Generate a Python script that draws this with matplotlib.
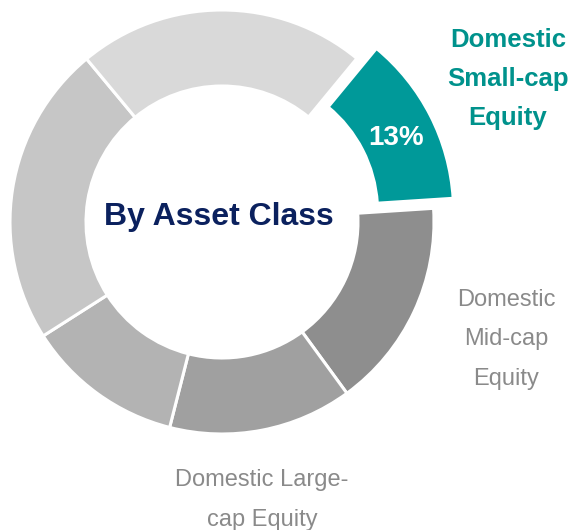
import matplotlib
matplotlib.use('Agg')
import matplotlib.pyplot as plt

plt.rcParams['font.family'] = ['Liberation Sans', 'DejaVu Sans']

W, H = 572, 530

# ── data (clockwise from the highlighted slice) ──
segments = ['Domestic Small-cap Equity', 'Domestic Mid-cap Equity',
            'Domestic Large-cap Equity', 'Segment 4', 'Segment 5', 'Segment 6']
shares = [13, 16, 14, 12, 23, 22]
wedge_colors = ['#009999', '#8e8e8e', '#a0a0a0', '#b3b3b3', '#c6c6c6', '#d9d9d9']
pct_label = '13%'
center_title = 'By Asset Class'
small_cap_lines = ['Domestic', 'Small-cap', 'Equity']
mid_cap_lines = ['Domestic', 'Mid-cap', 'Equity']
large_cap_lines = ['Domestic Large-', 'cap Equity']

TEAL_TXT = '#00928c'
GRAY_TXT = '#8a8a8a'
NAVY = '#0b215e'

fig = plt.figure(figsize=(W / 100, H / 100), dpi=100)
ax = fig.add_axes([0, 0, 1, 1])

# pixel-like coordinates, y measured upward
cx, cy, R, ring = 222, H - 222, 212, 76
offset = 22   # slice pulled out
explode = [offset if i == 0 else 0 for i in range(len(shares))]
ax.pie(shares, colors=wedge_colors, explode=explode, startangle=50.5,
       counterclock=False, radius=R, center=(cx, cy),
       wedgeprops=dict(width=ring, edgecolor='white', linewidth=2.2))
ax.set_xlim(0, W)
ax.set_ylim(0, H)
ax.axis('off')

ax.text(219, H - 225, center_title, ha='center', va='baseline',
        fontsize=23, fontweight='bold', color=NAVY)
ax.text(396, H - 145, pct_label, ha='center', va='baseline',
        fontsize=20, fontweight='bold', color='white')


def put_lines(lines, x, y0, step, **kw):
    for i, line in enumerate(lines):
        ax.text(x, H - (y0 + i * step), line, ha='center', va='baseline', **kw)


put_lines(small_cap_lines, 508, 47, 39, fontsize=18.5, fontweight='bold', color=TEAL_TXT)
put_lines(mid_cap_lines, 506, 306, 39.5, fontsize=17, color=GRAY_TXT)
put_lines(large_cap_lines, 262, 486, 40, fontsize=17, color=GRAY_TXT)

fig.savefig('out.png', dpi=100)
